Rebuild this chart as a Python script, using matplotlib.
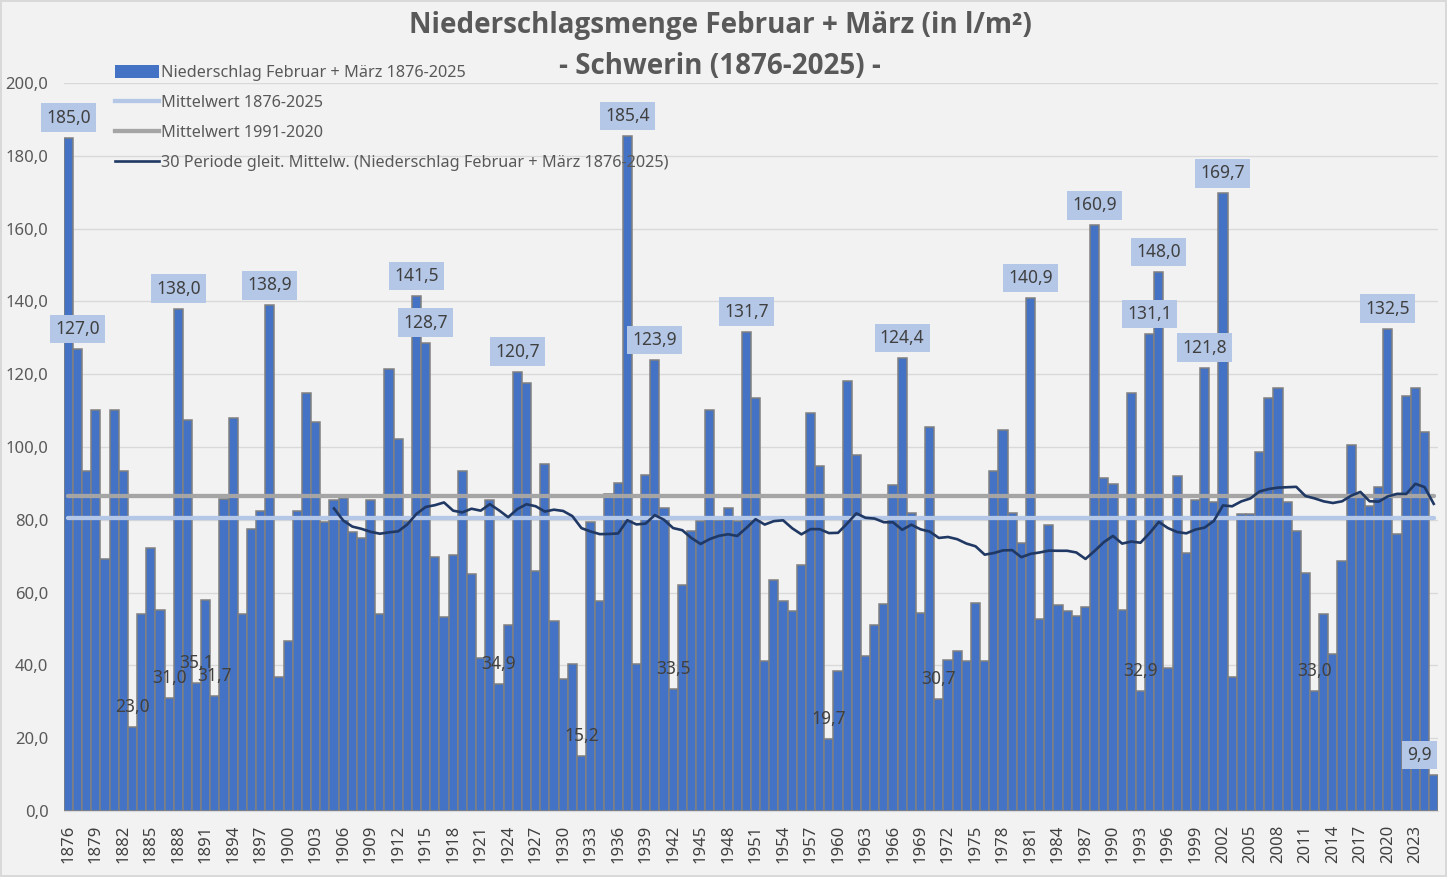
import numpy as np
import pandas as pd
import matplotlib
matplotlib.use('Agg')
import matplotlib.pyplot as plt
from matplotlib.patches import Patch
from matplotlib.lines import Line2D

plt.rcParams['font.family'] = ['Noto Sans', 'DejaVu Sans']

years = list(range(1876, 2026))
niederschlag = [
    185.0, 127.0, 93.4, 110.3, 69.2, 110.3, 93.4, 23.0, 54.0, 72.2,      # 1876-1885
    55.2, 31.0, 138.0, 107.4, 35.1, 58.0, 31.7, 85.6, 108.0, 54.0,       # 1886-1895
    77.4, 82.5, 138.9, 36.9, 46.8, 82.4, 114.7, 107.0, 79.5, 85.4,       # 1896-1905
    86.0, 76.6, 75.0, 85.4, 54.0, 121.3, 102.2, 79.6, 141.5, 128.7,      # 1906-1915
    69.9, 53.4, 70.2, 93.4, 65.2, 42.0, 85.4, 34.9, 51.1, 120.7,         # 1916-1925
    117.7, 66.0, 95.3, 52.1, 36.2, 40.4, 15.2, 79.4, 57.6, 87.0,         # 1926-1935
    90.2, 185.4, 40.5, 92.2, 123.9, 83.2, 33.5, 62.1, 77.0, 79.8,        # 1936-1945
    110.2, 80.0, 83.2, 79.6, 131.7, 113.5, 41.1, 63.4, 57.8, 54.9,       # 1946-1955
    67.7, 109.3, 94.8, 19.7, 38.4, 118.1, 97.9, 42.7, 51.1, 56.9,        # 1956-1965
    89.5, 124.4, 81.8, 54.3, 105.4, 30.7, 41.4, 44.0, 41.1, 57.2,        # 1966-1975
    41.1, 93.4, 104.8, 81.8, 73.7, 140.9, 52.7, 78.5, 56.5, 54.9,        # 1976-1985
    53.7, 56.1, 160.9, 91.5, 89.8, 55.2, 114.7, 32.9, 131.1, 148.0,      # 1986-1995
    39.2, 92.1, 70.8, 85.4, 121.8, 85.0, 169.7, 36.9, 81.5, 81.5,        # 1996-2005
    98.7, 113.5, 116.2, 85.0, 77.0, 65.3, 33.0, 54.0, 43.1, 68.8,        # 2006-2015
    100.6, 86.7, 83.8, 89.0, 132.5, 76.1, 114.1, 116.2, 104.1, 9.9,      # 2016-2025
]

# Jahre mit Datenbeschriftung
label_box = [1876, 1877, 1888, 1898, 1914, 1915, 1925, 1937, 1940, 1950,
             1967, 1981, 1988, 1994, 1995, 2000, 2002, 2020, 2025]
label_plain = [1883, 1887, 1890, 1892, 1923, 1932, 1942, 1959, 1971, 1993, 2012]

s = pd.Series(niederschlag, index=years)
mittel_alle = s.mean()
mittel_9120 = s.loc[1991:2020].mean()
gleit = s.rolling(30).mean()

x = np.arange(len(years))

def fmt(v):
    return f"{v:.1f}".replace('.', ',')

W, H = 1447, 877
fig = plt.figure(figsize=(W / 100, H / 100), dpi=100)
fig.patch.set_facecolor('#f2f2f2')
fig.patch.set_edgecolor('#d9d9d9')
fig.patch.set_linewidth(1.5)

ax = fig.add_axes([63.7 / W, 66 / H, (1438.3 - 63.7) / W, 728 / H])
ax.set_facecolor('#f2f2f2')

ax.bar(x, niederschlag, width=1.0, color='#4472C4', edgecolor='#808080',
       linewidth=1.1, zorder=2)
ax.plot(x, [mittel_alle] * len(x), color='#b4c7e7', lw=3.1, zorder=3,
        solid_capstyle='round')
ax.plot(x, [mittel_9120] * len(x), color='#a5a5a5', lw=3.1, zorder=3,
        solid_capstyle='round')
ax.plot(x, gleit.values, color='#203864', lw=1.9, zorder=4)

for yr in label_box + label_plain:
    i = years.index(yr)
    v = niederschlag[i]
    dx = -14 if yr == 2025 else 0
    box = dict(boxstyle='square,pad=0.3', fc='#b4c7e7', ec='none') if yr in label_box else None
    ax.annotate(fmt(v), (i, v), xytext=(dx, 20), textcoords='offset pixels',
                ha='center', va='center', fontsize=12.5, color='#404040',
                bbox=box, zorder=6, annotation_clip=False)

ax.set_xlim(-0.5, len(x) - 0.5)
ax.set_ylim(0, 200)
ax.set_yticks(np.arange(0, 201, 20))
ax.set_yticklabels([fmt(v) for v in np.arange(0, 201, 20)])
ax.set_xticks(x[::3])
ax.set_xticklabels([str(y) for y in years[::3]], rotation=90)
ax.tick_params(axis='y', length=0, pad=11, labelsize=12, labelcolor='#595959')
ax.tick_params(axis='x', length=0, pad=10, labelsize=12, labelcolor='#404040')
ax.grid(axis='y', color='#d9d9d9', lw=1.0, zorder=0)
ax.set_axisbelow(True)
for side in ['left', 'right', 'top']:
    ax.spines[side].set_visible(False)
ax.spines['bottom'].set_color('#d9d9d9')

titel = dict(ha='center', va='center', fontsize=20, fontweight='bold',
             color='#595959', family=['Open Sans', 'DejaVu Sans'])
fig.text(720 / W, 1 - 25 / H, 'Niederschlagsmenge Februar + März (in l/m²)', **titel)
fig.text(720 / W, 1 - 66 / H, '- Schwerin (1876-2025) -', **titel)

handles = [
    Patch(facecolor='#4472C4', edgecolor='none'),
    Line2D([], [], color='#b4c7e7', lw=3.1),
    Line2D([], [], color='#a5a5a5', lw=3.1),
    Line2D([], [], color='#203864', lw=1.9),
]
labels = [
    'Niederschlag Februar + März 1876-2025',
    'Mittelwert 1876-2025',
    'Mittelwert 1991-2020',
    '30 Periode gleit. Mittelw. (Niederschlag Februar + März 1876-2025)',
]
leg = fig.legend(handles, labels, loc='upper left',
                 bbox_to_anchor=(115 / W, 1 - 65 / H), frameon=False,
                 fontsize=11.7, labelcolor='#595959', handlelength=2.7,
                 handleheight=0.85, handletextpad=0.15, labelspacing=0.85,
                 borderpad=0, borderaxespad=0)

fig.savefig('out.png', dpi=100, facecolor=fig.get_facecolor())
